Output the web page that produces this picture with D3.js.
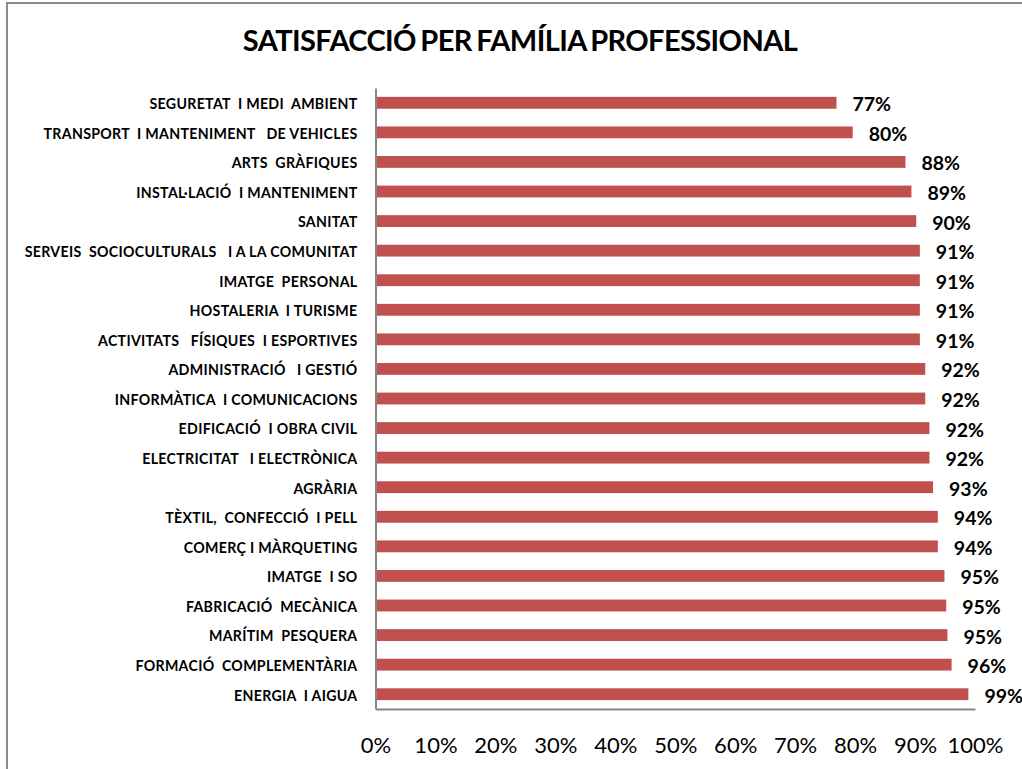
<!DOCTYPE html>
<html>
<head>
<meta charset="utf-8">
<script src="https://cdn.jsdelivr.net/npm/d3@7"></script>
<style>
  body { margin: 0; background: #fff; }
  svg { display: block; font-family: Lato, "Open Sans", sans-serif; }
</style>
</head>
<body>
<div id="chart"></div>
<script>
// data
var families = [
  "SEGURETAT  I MEDI  AMBIENT",
  "TRANSPORT  I MANTENIMENT   DE VEHICLES",
  "ARTS  GRÀFIQUES",
  "INSTAL·LACIÓ  I MANTENIMENT",
  "SANITAT",
  "SERVEIS  SOCIOCULTURALS   I A LA COMUNITAT",
  "IMATGE  PERSONAL",
  "HOSTALERIA  I TURISME",
  "ACTIVITATS   FÍSIQUES  I ESPORTIVES",
  "ADMINISTRACIÓ   I GESTIÓ",
  "INFORMÀTICA  I COMUNICACIONS",
  "EDIFICACIÓ  I OBRA CIVIL",
  "ELECTRICITAT   I ELECTRÒNICA",
  "AGRÀRIA",
  "TÈXTIL,  CONFECCIÓ  I PELL",
  "COMERÇ I MÀRQUETING",
  "IMATGE  I SO",
  "FABRICACIÓ  MECÀNICA",
  "MARÍTIM  PESQUERA",
  "FORMACIÓ  COMPLEMENTÀRIA",
  "ENERGIA  I AIGUA"
];
var satisfaction = [0.769, 0.796, 0.884, 0.894, 0.902, 0.908, 0.908, 0.908, 0.908,
  0.917, 0.917, 0.924, 0.924, 0.930, 0.938, 0.938, 0.949, 0.952, 0.954, 0.961, 0.989];
var xTicks = [0, 0.1, 0.2, 0.3, 0.4, 0.5, 0.6, 0.7, 0.8, 0.9, 1];
var title = "SATISFACCIÓ PER FAMÍLIA PROFESSIONAL";

var svgWidth = 1022;
var svgHeight = 769;
var margin = { top: 88, left: 375.5 };
var width = 599.5;
var height = 621;

var data = families.map(function(f, i) { return { name: f, value: satisfaction[i] }; });

var svg = d3.select("#chart")
  .append("svg")
  .attr("width", svgWidth)
  .attr("height", svgHeight);

// chart area border (right and bottom fall outside the picture)
svg.append("rect")
  .attr("x", 7)
  .attr("y", 3)
  .attr("width", 1100)
  .attr("height", 900)
  .attr("fill", "none")
  .attr("stroke", "#8c8c8c")
  .attr("stroke-width", 2);

svg.append("text")
  .attr("x", 520)
  .attr("y", 51)
  .attr("text-anchor", "middle")
  .attr("font-size", 29)
  .attr("font-weight", "bold")
  .attr("letter-spacing", -0.6)
  .attr("word-spacing", -2)
  .text(title);

var chartGroup = svg.append("g")
  .attr("transform", `translate(${margin.left}, ${margin.top})`);

var x = d3.scaleLinear().domain([0, 1]).range([0, width]);
var y = d3.scaleBand()
  .domain(families)
  .range([0, height])
  .paddingInner(0.6)
  .paddingOuter(0.3);

// bars
chartGroup.selectAll("rect.bar")
  .data(data)
  .enter()
  .append("rect")
  .attr("class", "bar")
  .attr("x", 0)
  .attr("y", d => y(d.name))
  .attr("width", d => x(d.value))
  .attr("height", y.bandwidth())
  .attr("fill", "#c0504d");

// value labels
chartGroup.selectAll("text.val")
  .data(data)
  .enter()
  .append("text")
  .attr("class", "val")
  .attr("x", d => x(d.value) + 16)
  .attr("y", d => y(d.name) + y.bandwidth() / 2 + 1)
  .attr("dominant-baseline", "central")
  .attr("font-size", 19.5)
  .attr("font-weight", "bold")
  .text(d => d3.format(".0%")(d.value));

// axes
var leftAxis = d3.axisLeft(y).tickSize(0).tickSizeOuter(0).tickPadding(18);
var bottomAxis = d3.axisBottom(x).tickValues(xTicks).tickFormat(d3.format(".0%")).tickSize(0).tickSizeOuter(0);

var yAxis = chartGroup.append("g").call(leftAxis);
yAxis.select(".domain").attr("stroke", "#868686").attr("stroke-width", 2);
yAxis.selectAll("text")
  .attr("font-family", "Lato, sans-serif")
  .attr("font-size", 14.2)
  .attr("font-weight", "bold")
  .attr("letter-spacing", 0.3)
  .attr("fill", "#000")
  .attr("dy", "0.45em")
  .style("white-space", "pre");

var xAxis = chartGroup.append("g")
  .attr("transform", `translate(0, ${height})`)
  .call(bottomAxis);
xAxis.select(".domain").attr("stroke", "#868686").attr("stroke-width", 2);
xAxis.selectAll("text")
  .attr("font-family", "Lato, sans-serif")
  .attr("font-size", 22)
  .attr("fill", "#000")
  .attr("y", 44)
  .attr("dy", 0);
</script>
</body>
</html>
